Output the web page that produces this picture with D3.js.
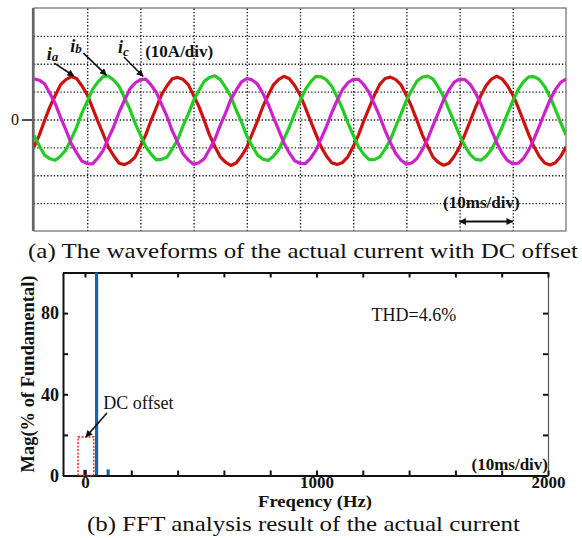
<!DOCTYPE html>
<html lang="en">
<head>
<meta charset="utf-8">
<title>Current with DC offset</title>
<script src="https://cdn.jsdelivr.net/npm/d3@7"></script>
<style>
  body { margin: 0; background: #fff; }
  text { font-family: "Liberation Serif", "Times New Roman", serif; fill: #111; }
  .grid line { stroke: #1a1a1a; stroke-width: 1.4px; stroke-dasharray: 1.3,2; }
  .grid path { display: none; }
  .wave { fill: none; stroke-width: 3.2px; stroke-linejoin: round; }
  .fft-axis path, .fft-axis line { stroke: #111; stroke-width: 2px; }
  .fft-axis text { font-family: "Liberation Serif", serif; font-size: 18px; font-weight: bold; }
</style>
</head>
<body>
<div id="chart"></div>
<script>
// ---- (a) scope trace, one sample per ms, amps ----
var sampleMs = 1;
var ia = [
  -9.8, -5.6, -0.3, 4.6, 8.6, 12.5, 14.3, 15.4, 14.7, 12.1, 8.9, 4.2, -0.7, -5.2, -10.0, -13.1, -15.7, -16.2, -15.3, -13.5,
  -9.6, -5.5, -0.4, 4.3, 9.0, 12.1, 14.6, 15.1, 14.4, 12.5, 8.6, 4.6, -0.3, -5.6, -9.7, -13.4, -15.3, -16.5, -15.6, -13.1,
  -10.0, -5.2, -0.6, 4.5, 8.7, 12.4, 14.4, 15.5, 14.6, 12.2, 8.9, 4.3, -0.6, -5.3, -9.9, -13.2, -15.6, -16.1, -15.4, -13.4,
  -9.7, -5.5, -0.4, 4.2, 8.8, 12.6, 14.7, 15.2, 14.3, 12.4, 8.7, 4.5, -0.4, -5.5, -9.6, -13.5, -15.4, -16.4, -15.7, -13.2,
  -9.9, -5.3, -0.5, 4.4, 8.6, 12.2, 14.5, 15.6, 14.5, 12.1, 8.8, 4.4, -0.5, -5.4, -9.8, -13.3, -15.6, -16.3, -15.5, -13.3,
  -9.8
];
var ib = [
  -5.7, -9.4, -12.8, -14.1, -14.6, -13.1, -10.9, -7.0, -2.8, 2.3, 6.5, 10.8, 13.4, 15.4, 15.6, 14.1, 11.9, 7.9, 3.8, -1.3,
  -5.5, -9.7, -12.4, -14.5, -14.3, -13.5, -10.5, -7.3, -2.4, 1.9, 6.8, 10.4, 13.7, 15.1, 15.7, 14.4, 11.5, 8.3, 3.4, -0.9,
  -5.8, -9.5, -12.7, -14.2, -14.7, -13.2, -10.8, -6.9, -2.7, 2.2, 6.6, 10.7, 13.5, 15.5, 15.3, 14.2, 11.8, 8.0, 3.7, -1.2,
  -5.6, -9.8, -12.5, -14.4, -14.4, -13.4, -10.6, -7.2, -2.5, 2.0, 6.9, 10.5, 13.8, 15.2, 15.6, 14.5, 11.6, 8.2, 3.5, -1.0,
  -5.7, -9.5, -12.6, -14.3, -14.6, -13.2, -10.7, -7.0, -2.7, 2.1, 6.6, 10.7, 13.5, 15.3, 15.4, 14.3, 11.8, 8.1, 3.6, -1.1,
  -5.6
];
var ic = [
  14.6, 14.1, 12.8, 9.3, 5.7, 0.7, -3.7, -8.6, -11.9, -14.9, -15.8, -15.9, -13.8, -11.1, -6.7, -2.5, 2.7, 6.8, 10.9, 13.1,
  14.3, 14.5, 12.4, 9.7, 5.3, 1.1, -4.1, -8.2, -12.3, -14.5, -16.1, -15.5, -14.1, -10.7, -7.1, -2.1, 2.3, 7.2, 10.5, 13.5,
  14.7, 14.2, 12.7, 9.4, 5.6, 0.8, -3.8, -8.5, -12.0, -14.8, -15.7, -15.8, -13.9, -11.0, -6.8, -2.4, 2.6, 6.9, 10.8, 13.2,
  14.4, 14.4, 12.5, 9.6, 5.4, 1.0, -4.0, -8.3, -12.2, -14.6, -16.0, -15.6, -14.0, -10.8, -7.0, -2.2, 2.4, 7.1, 10.6, 13.4,
  14.5, 14.3, 12.6, 9.5, 5.5, 0.9, -3.9, -8.4, -12.1, -14.7, -15.9, -15.7, -14.0, -10.9, -6.9, -2.3, 2.5, 7.0, 10.7, 13.3,
  14.5
];
var waveNames = ["a", "b", "c"];
var waveColors = ["#cc1111", "#22cc22", "#cc22cc"];
var timeGrid = [10, 20, 30, 40, 50, 60, 70, 80, 90];      // ms
var ampGrid = [-30, -20, -10, 0, 10, 20, 30];              // A

// ---- (b) FFT spectrum ----
var fftFreq = [0, 50, 100];        // Hz
var fftMag = [2.8, 100, 3.0];      // % of fundamental
var fftColors = ["#222222", "#1763b0", "#1763b0"];
var freqTicks = [0, 200, 400, 600, 800, 1000, 1200, 1400, 1600, 1800, 2000];
var freqLabels = [0, 1000, 2000];
var magTicks = [0, 20, 40, 60, 80, 100];
var magLabels = [0, 40, 80];

var W = 582, H = 538;
var svg = d3.select("#chart").append("svg")
    .attr("width", W).attr("height", H);
svg.append("rect").attr("width", W).attr("height", H).attr("fill", "#fff");

var defs = svg.append("defs");
defs.append("marker")
    .attr("id", "head").attr("viewBox", "0 0 10 10")
    .attr("refX", 9).attr("refY", 5)
    .attr("markerWidth", 9).attr("markerHeight", 7)
    .attr("markerUnits", "userSpaceOnUse")
    .attr("orient", "auto-start-reverse")
  .append("path").attr("d", "M0,0L10,5L0,10z").attr("fill", "#111");

// ================= (a) =================
var x = d3.scaleLinear().domain([0, 100]).range([34, 566]),
    y = d3.scaleLinear().domain([-40, 40]).range([231, 8]);

defs.append("clipPath").attr("id", "clipA")
  .append("rect").attr("x", 34).attr("y", 8).attr("width", 532).attr("height", 223);

svg.append("g")
    .attr("class", "grid")
    .attr("transform", "translate(0," + y(-40) + ")")
    .call(d3.axisBottom(x).tickValues(timeGrid).tickSize(-(y(-40) - y(40))).tickFormat(""));

svg.append("g")
    .attr("class", "grid")
    .attr("transform", "translate(" + x(0) + ",0)")
    .call(d3.axisLeft(y).tickValues(ampGrid).tickSize(-(x(100) - x(0))).tickFormat(""));

// box
svg.append("rect")
    .attr("x", x(0)).attr("y", y(40))
    .attr("width", x(100) - x(0)).attr("height", y(-40) - y(40))
    .attr("fill", "none").attr("stroke", "#777").attr("stroke-width", 1.3);
svg.append("line")
    .attr("x1", x(0) - 1).attr("x2", x(0) - 1)
    .attr("y1", y(40)).attr("y2", y(-40))
    .attr("stroke", "#666").attr("stroke-width", 2.2);

// zero tick
var zeroAx = svg.append("g")
    .attr("transform", "translate(" + (x(0) - 2) + ",0)")
    .call(d3.axisLeft(y).tickValues([0]).tickSize(10).tickPadding(3));
zeroAx.select(".domain").remove();
zeroAx.selectAll("line").attr("stroke", "#222").attr("stroke-width", 1.6);
zeroAx.selectAll("text").style("font-size", "16px").style("font-family", "Liberation Serif, serif").attr("fill", "#111");

var line = d3.line()
    .x(function(d, i) { return x(i * sampleMs); })
    .y(function(d) { return y(d); });

var waves = svg.append("g").attr("clip-path", "url(#clipA)");
[ia, ib, ic].forEach(function(s, k) {
  waves.append("path")
      .datum(s)
      .attr("class", "wave")
      .attr("stroke", waveColors[k])
      .attr("d", line);
});

// phase labels and arrows
var labelPos = [[2.4, 21.3], [6.8, 24.3], [15.8, 23.9]];
var arrowA = [[[3.8, 20.2], [7.5, 15.6]], [[9.3, 23.8], [13.6, 15.9]], [[16.9, 22.4], [20.5, 15.5]]];
waveNames.forEach(function(n, k) {
  var t = svg.append("text")
      .attr("x", x(labelPos[k][0])).attr("y", y(labelPos[k][1]))
      .style("font-size", "18px").style("font-weight", "bold").style("font-style", "italic");
  t.append("tspan").text("i");
  t.append("tspan").attr("dy", k === 2 ? 3 : 1).style("font-size", "13px").text(n);
  svg.append("line")
      .attr("x1", x(arrowA[k][0][0])).attr("y1", y(arrowA[k][0][1]))
      .attr("x2", x(arrowA[k][1][0])).attr("y2", y(arrowA[k][1][1]))
      .attr("stroke", "#111").attr("stroke-width", 1.6)
      .attr("marker-end", "url(#head)");
});

svg.append("text")
    .attr("x", x(20.9)).attr("y", y(22.4))
    .style("font-size", "17px").style("font-weight", "bold")
    .text("(10A/div)");

svg.append("text")
    .attr("x", x(76.9)).attr("y", y(-31.7))
    .style("font-size", "17px").style("font-weight", "bold")
    .text("(10ms/div)");
svg.append("line")
    .attr("x1", x(80)).attr("x2", x(90))
    .attr("y1", y(-36.6)).attr("y2", y(-36.6))
    .attr("stroke", "#111").attr("stroke-width", 1.8)
    .attr("marker-start", "url(#head)").attr("marker-end", "url(#head)");

svg.append("text")
    .attr("x", 28).attr("y", 258)
    .attr("textLength", 550).attr("lengthAdjust", "spacingAndGlyphs")
    .style("font-size", "22px")
    .text("(a) The waveforms of the actual current with DC offset");

// ================= (b) =================
var fx = d3.scaleLinear().domain([-95, 2000]).range([63, 548]),
    fy = d3.scaleLinear().domain([0, 100]).range([475.5, 272.5]);

function lbl(list) { return function(d) { return list.indexOf(d) >= 0 ? d : ""; }; }

// right border, thin
svg.append("g")
    .attr("transform", "translate(" + fx(2000) + ",0)")
    .call(d3.axisRight(fy).tickValues(magTicks).tickSize(-5).tickSizeOuter(0).tickFormat(""))
    .call(function(g) {
      g.select(".domain").attr("stroke", "#555").attr("stroke-width", 1.2);
      g.selectAll("line").attr("stroke", "#111").attr("stroke-width", 2);
    });

svg.append("g")
    .attr("class", "fft-axis")
    .attr("transform", "translate(0," + fy(100) + ")")
    .call(d3.axisTop(fx).tickValues(freqTicks).tickSize(-5).tickSizeOuter(0).tickFormat(""))
    .select(".domain").attr("stroke-width", 2.6);

var bars = svg.append("g");
fftFreq.forEach(function(f, i) {
  bars.append("line")
      .attr("x1", fx(f)).attr("x2", fx(f))
      .attr("y1", fy(0)).attr("y2", fy(fftMag[i]))
      .attr("stroke", fftColors[i]).attr("stroke-width", 3.2);
});

svg.append("g")
    .attr("class", "fft-axis")
    .attr("transform", "translate(0," + fy(0) + ")")
    .call(d3.axisBottom(fx).tickValues(freqTicks).tickSize(-5).tickSizeOuter(0).tickPadding(0).tickFormat(lbl(freqLabels)))
    .selectAll("text").style("font-size", "17px");

svg.append("g")
    .attr("class", "fft-axis")
    .attr("transform", "translate(" + fx(-95) + ",0)")
    .call(d3.axisLeft(fy).tickValues(magTicks).tickSize(-5).tickSizeOuter(0).tickPadding(4).tickFormat(lbl(magLabels)));

// DC offset marker
var dcBox = { f0: -30, f1: 38, top: 19 };
svg.append("rect")
    .attr("x", fx(dcBox.f0)).attr("y", fy(dcBox.top))
    .attr("width", fx(dcBox.f1) - fx(dcBox.f0)).attr("height", fy(0) - fy(dcBox.top))
    .attr("fill", "none").attr("stroke", "#e52222")
    .attr("stroke-width", 1.4).attr("stroke-dasharray", "2,1.5");
svg.append("line")
    .attr("x1", fx(95)).attr("y1", fy(30.8))
    .attr("x2", fx(4)).attr("y2", fy(19))
    .attr("stroke", "#111").attr("stroke-width", 1.6)
    .attr("marker-end", "url(#head)");
svg.append("text")
    .attr("x", fx(79)).attr("y", fy(33))
    .style("font-size", "18px")
    .text("DC offset");

svg.append("text")
    .attr("x", fx(1238)).attr("y", fy(76))
    .style("font-size", "18px")
    .text("THD=4.6%");

svg.append("text")
    .attr("x", fx(2000)).attr("y", 470)
    .attr("text-anchor", "end")
    .style("font-size", "17px").style("font-weight", "bold")
    .text("(10ms/div)");

svg.append("text")
    .attr("transform", "translate(34," + fy(50) + ") rotate(-90)")
    .attr("text-anchor", "middle")
    .attr("textLength", 197).attr("lengthAdjust", "spacingAndGlyphs")
    .style("font-size", "18px").style("font-weight", "bold")
    .text("Mag(% of Fundamental)");

svg.append("text")
    .attr("x", 315).attr("y", 507)
    .attr("text-anchor", "middle")
    .attr("textLength", 114).attr("lengthAdjust", "spacingAndGlyphs")
    .style("font-size", "16px").style("font-weight", "bold")
    .text("Freqency (Hz)");

svg.append("text")
    .attr("x", 87).attr("y", 531)
    .attr("textLength", 433).attr("lengthAdjust", "spacingAndGlyphs")
    .style("font-size", "22px")
    .text("(b) FFT analysis result of the actual current");
</script>
</body>
</html>
